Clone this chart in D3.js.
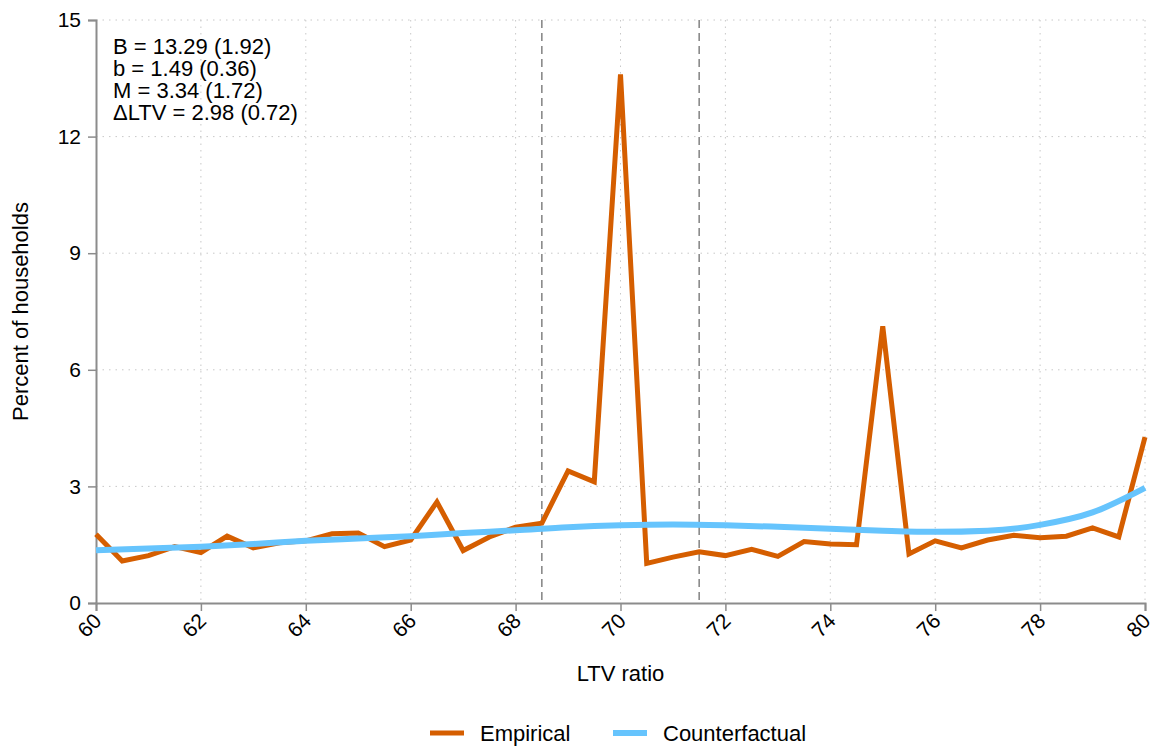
<!DOCTYPE html>
<html>
<head>
<meta charset="utf-8">
<script src="https://cdn.jsdelivr.net/npm/d3@7"></script>
<style>
  body { margin: 0; background: #fff; }
  svg { font-family: "Liberation Sans", Arial, sans-serif; }
</style>
</head>
<body>
<svg id="chart"></svg>
<script>
// LTV ratio grid (0.5 steps) and empirical share of households
const ltvEmp = d3.range(60, 80.01, 0.5);
const empirical = [1.77, 1.08, 1.22, 1.45, 1.30, 1.72, 1.42, 1.55, 1.60, 1.78,
                   1.80, 1.45, 1.62, 2.60, 1.35, 1.70, 1.95, 2.05, 3.40, 3.12,
                   13.6, 1.02, 1.18, 1.32, 1.22, 1.38, 1.20, 1.58, 1.52, 1.50,
                   7.12, 1.26, 1.60, 1.42, 1.62, 1.74, 1.68, 1.72, 1.93, 1.70, 4.27];

// Counterfactual (smooth) at integer LTV points
const ltvCf = d3.range(60, 81, 1);
const counterfactual = [1.36, 1.40, 1.45, 1.52, 1.60, 1.66, 1.72, 1.80, 1.87, 1.95,
                        2.00, 2.02, 2.00, 1.96, 1.91, 1.86, 1.83, 1.86, 2.01, 2.33, 2.96];

const notchLines = [68.5, 71.5];
const xTicks = d3.range(60, 81, 2);
const yTicks = [0, 3, 6, 9, 12, 15];
const notes = ["B = 13.29 (1.92)", "b = 1.49 (0.36)", "M = 3.34 (1.72)", "\u0394LTV = 2.98 (0.72)"];
const series = [
  { name: "Empirical", color: "#D55E00", width: 5 },
  { name: "Counterfactual", color: "#66C4FD", width: 6 }
];

const W = 1156, H = 747;
const margin = { top: 20, right: 11, bottom: 144, left: 96 };
const width = W - margin.left - margin.right;
const height = H - margin.top - margin.bottom;

const svg = d3.select('#chart').attr('width', W).attr('height', H);
const chart = svg.append('g').attr('transform', `translate(${margin.left},${margin.top})`);

const xScale = d3.scaleLinear().domain([60, 80]).range([0, width]);
const yScale = d3.scaleLinear().domain([0, 15]).range([height, 0]);

// grid lines
chart.append('g').selectAll('line')
    .data(xTicks.slice(1))
    .join('line')
    .attr('x1', d => xScale(d)).attr('x2', d => xScale(d))
    .attr('y1', 0).attr('y2', height)
    .attr('stroke', '#c8c8c8').attr('stroke-width', 1)
    .attr('stroke-dasharray', '1.5,5');

chart.append('g').selectAll('line')
    .data(yTicks.slice(1))
    .join('line')
    .attr('x1', 0).attr('x2', width)
    .attr('y1', d => yScale(d)).attr('y2', d => yScale(d))
    .attr('stroke', '#c8c8c8').attr('stroke-width', 1)
    .attr('stroke-dasharray', '1.5,5');

// dashed bunching window
chart.append('g').selectAll('line')
    .data(notchLines)
    .join('line')
    .attr('x1', d => xScale(d)).attr('x2', d => xScale(d))
    .attr('y1', 0).attr('y2', height)
    .attr('stroke', '#8a8a8a').attr('stroke-width', 1.6)
    .attr('stroke-dasharray', '8,5');

// axes
const xAxis = d3.axisBottom(xScale).tickValues(xTicks).tickSize(8).tickFormat(d3.format('d'));
const yAxis = d3.axisLeft(yScale).tickValues(yTicks).tickSize(8).tickPadding(7);

const xAxisGroup = chart.append('g')
    .attr('transform', `translate(0,${height})`)
    .call(xAxis);
xAxisGroup.selectAll('text')
    .attr('font-size', 21)
    .attr('fill', '#000')
    .attr('text-anchor', 'end')
    .attr('x', 0).attr('y', 0)
    .attr('dy', '0.35em')
    .attr('transform', 'translate(1,14) rotate(-45)');

const yAxisGroup = chart.append('g').call(yAxis);
yAxisGroup.selectAll('text').attr('font-size', 21).attr('fill', '#000');

[xAxisGroup, yAxisGroup].forEach(g => {
    g.select('.domain').attr('stroke', '#8c8c8c').attr('stroke-width', 2);
    g.selectAll('.tick line').attr('stroke', '#8c8c8c').attr('stroke-width', 1.5);
});

// axis labels
chart.append('text')
    .attr('x', width / 2)
    .attr('y', height + 78)
    .attr('text-anchor', 'middle')
    .attr('font-size', 22)
    .text('LTV ratio');

chart.append('text')
    .attr('transform', `translate(${-68},${height / 2}) rotate(-90)`)
    .attr('text-anchor', 'middle')
    .attr('font-size', 22)
    .text('Percent of households');

// lines
const line = d3.line().x(d => xScale(d[0])).y(d => yScale(d[1]));
const smooth = d3.line().curve(d3.curveMonotoneX).x(d => xScale(d[0])).y(d => yScale(d[1]));

chart.append('path')
    .datum(ltvEmp.map((x, i) => [x, empirical[i]]))
    .attr('d', line)
    .attr('fill', 'none')
    .attr('stroke', series[0].color)
    .attr('stroke-width', series[0].width)
    .attr('stroke-linejoin', 'miter');

chart.append('path')
    .datum(ltvCf.map((x, i) => [x, counterfactual[i]]))
    .attr('d', smooth)
    .attr('fill', 'none')
    .attr('stroke', series[1].color)
    .attr('stroke-width', series[1].width);

// estimates box
chart.append('g').selectAll('text')
    .data(notes)
    .join('text')
    .attr('x', 17)
    .attr('y', (d, i) => 34 + i * 22)
    .attr('font-size', 22)
    .text(d => d);

// legend
const legend = svg.append('g').attr('transform', `translate(0,${H - 14})`);
const legendX = [430, 613];
series.forEach((s, i) => {
    legend.append('line')
        .attr('x1', legendX[i]).attr('x2', legendX[i] + 34)
        .attr('y1', 0).attr('y2', 0)
        .attr('stroke', s.color).attr('stroke-width', s.width);
    legend.append('text')
        .attr('x', legendX[i] + 50)
        .attr('y', 0)
        .attr('dy', '0.35em')
        .attr('font-size', 22)
        .text(s.name);
});
</script>
</body>
</html>
